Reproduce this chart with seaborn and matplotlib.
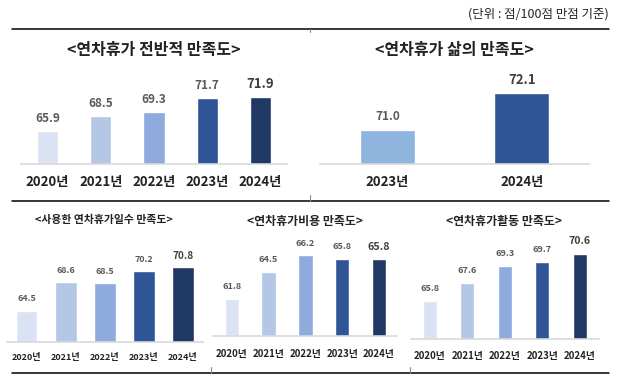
import matplotlib
matplotlib.use('Agg')
import matplotlib.pyplot as plt
from matplotlib.lines import Line2D
import seaborn as sns

sns.set_theme(style='white')
plt.rcParams['font.family'] = ['Noto Sans CJK KR', 'DejaVu Sans']

# data
years5 = ['2020년', '2021년', '2022년', '2023년', '2024년']
years2 = ['2023년', '2024년']
overall = [65.9, 68.5, 69.3, 71.7, 71.9]   # 연차휴가 전반적 만족도
life = [71.0, 72.1]                        # 연차휴가 삶의 만족도
days = [64.5, 68.6, 68.5, 70.2, 70.8]      # 사용한 연차휴가일수 만족도
cost = [61.8, 64.5, 66.2, 65.8, 65.8]      # 연차휴가비용 만족도
activity = [65.8, 67.6, 69.3, 69.7, 70.6]  # 연차휴가활동 만족도

titles = ['<연차휴가 전반적 만족도>', '<연차휴가 삶의 만족도>',
          '<사용한 연차휴가일수 만족도>', '<연차휴가비용 만족도>', '<연차휴가활동 만족도>']
unit_text = '(단위 : 점/100점 만점 기준)'

blues5 = ['#DAE3F3', '#B4C7E7', '#8FAADC', '#2F5597', '#203864']
blues2 = ['#8FB4DE', '#2F5597']

W, H = 622, 385
fig = plt.figure(figsize=(W / 100, H / 100), dpi=100)


def px_axes(left, right, top, base):
    return fig.add_axes([left / W, 1 - base / H, (right - left) / W, (base - top) / H])


def panel(cats, vals, colors, box, ylo, ppu, width, lab_off, lab_size, tick_size,
          tick_pad, tick_weight, title, title_xy, title_size, big_last=None):
    left, right, top, base = box
    ax = px_axes(left, right, top, base)
    sns.barplot(x=cats, y=vals, hue=cats, palette=colors, width=width,
                saturation=1, legend=False, ax=ax)
    ax.set_xlim(-0.5, len(cats) - 0.5)
    ax.set_ylim(ylo, ylo + (base - top) / ppu)
    ax.set_xlabel('')
    ax.set_ylabel('')
    ax.set_yticks([])
    for s in ['left', 'right', 'top']:
        ax.spines[s].set_visible(False)
    ax.spines['bottom'].set_color('#D9D9D9')
    ax.spines['bottom'].set_linewidth(1.2)
    ax.tick_params(axis='x', length=0, pad=tick_pad, labelsize=tick_size,
                   colors='#222222')
    for t in ax.get_xticklabels():
        t.set_fontweight(tick_weight)
    for i, v in enumerate(vals):
        size, col = lab_size, '#595959'
        if big_last is not None and i == len(vals) - 1:
            size, col = big_last, '#404040'
        ax.annotate(f'{v:.1f}', (i, v), xytext=(0, lab_off * 0.72),
                    textcoords='offset points', ha='center', va='center',
                    fontsize=size, fontweight='bold', color=col)
    fig.text(title_xy[0] / W, 1 - title_xy[1] / H, title, ha='center',
             va='center', fontsize=title_size, fontweight='bold', color='#222222')
    return ax


panel(years5, overall, blues5, (21, 287, 60, 164), 60, 5.62, 0.40, 12.7, 8.5,
      9.5, 8.0, 'bold', titles[0], (154, 50), 11.5, big_last=9.5)
panel(years2, life, blues2, (320, 589, 60, 164.3), 70, 34.0, 0.41, 13.4, 8.5,
      9.5, 8.0, 'bold', titles[1], (454, 50), 11.5, big_last=9.5)
panel(years5, days, blues5, (7, 202.5, 240, 341.7), 60, 6.89, 0.56, 11.7, 6.4,
      6.5, 8.3, 'bold', titles[2], (104, 220), 7.8, big_last=7.2)
panel(years5, cost, blues5, (213.3, 397.4, 240, 336), 58, 9.84, 0.39, 12.3, 6.6,
      7.0, 9.2, 'bold', titles[3], (305, 221), 8.6, big_last=7.8)
panel(years5, activity, blues5, (410.8, 598.8, 240, 339), 62, 9.94, 0.37, 12.7, 6.6,
      7.0, 9.0, 'bold', titles[4], (504, 221.7), 8.6, big_last=7.6)

fig.text(609 / W, 1 - 14 / H, unit_text, ha='right', va='center',
         fontsize=9, color='#222222')

# separator lines and small divider ticks
def fig_line(x0, y0, x1, y1, color='black', lw=1.1):
    fig.add_artist(Line2D([x0 / W, x1 / W], [1 - y0 / H, 1 - y1 / H],
                          transform=fig.transFigure, color=color, lw=lw))

fig_line(12, 28.5, 609, 28.5)
fig_line(12, 200.5, 609, 200.5)
fig_line(12, 373, 609, 373)
fig_line(310, 28.5, 310, 32, color='#888888', lw=0.8)
fig_line(310, 195, 310, 200.5, color='#888888', lw=0.8)
fig_line(211, 367, 211, 373, color='#888888', lw=0.8)
fig_line(410, 367, 410, 373, color='#888888', lw=0.8)

fig.savefig('out.png', dpi=100)
